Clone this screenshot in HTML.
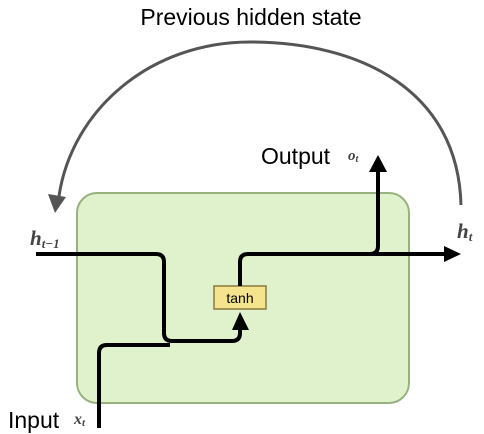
<!DOCTYPE html>
<html><head><meta charset="utf-8"><style>
html,body{margin:0;padding:0;background:#fff;}
svg{display:block;}
.s{font-family:"Liberation Sans",sans-serif;fill:#000;}
.m{font-family:"Liberation Serif",serif;font-style:italic;fill:#444;}
</style></head><body>
<svg width="484" height="434" viewBox="0 0 484 434">
  <text class="s" x="251" y="25" font-size="23" text-anchor="middle">Previous hidden state</text>
  <path d="M461,205 C458,90 360,42 250,42 C150,42 72,110 59,196" fill="none" stroke="#555" stroke-width="3"/>
  <polygon points="55,213 48,194 66,197" fill="#555"/>
  <rect x="77" y="193" width="332" height="210" rx="20" ry="20" fill="#dff2cc" stroke="#98b27f" stroke-width="2"/>
  <path d="M36,254 L156,254 Q164,254 164,262 L164,333 Q164,341 172,341 L232,341 Q240,341 240,333 L240,328" fill="none" stroke="#000" stroke-width="4"/>
  <path d="M99,428 L99,353 Q99,345 107,345 L170,345" fill="none" stroke="#000" stroke-width="4"/>
  <polygon points="240,312 232,330 249,330" fill="#000"/>
  <rect x="214" y="286" width="52" height="23" fill="#f3e48d" stroke="#8a7a3c" stroke-width="1.5"/>
  <text class="s" x="240" y="303" font-size="14" text-anchor="middle" fill="#333">tanh</text>
  <path d="M240,286 L240,262 Q240,254 248,254 L446,254" fill="none" stroke="#000" stroke-width="4"/>
  <polygon points="461,254 444,246 444,262" fill="#000"/>
  <path d="M370,254 Q378,254 378,246 L378,170" fill="none" stroke="#000" stroke-width="4"/>
  <polygon points="378,155 369,172 387,172" fill="#000"/>
  <text class="s" x="261" y="164" font-size="23">Output</text>
  <text class="m" x="348" y="160" font-size="15" font-weight="bold">o<tspan font-size="10" dy="2">t</tspan></text>
  <text class="m" x="457" y="238" font-size="21" font-weight="bold">h<tspan font-size="13" dy="3">t</tspan></text>
  <text class="m" x="30" y="245" font-size="21" font-weight="bold">h<tspan font-size="13" dy="3">t−1</tspan></text>
  <text class="s" x="8" y="428" font-size="23">Input</text>
  <text class="m" x="74" y="424" font-size="16" font-weight="bold">x<tspan font-size="11" dy="2">t</tspan></text>
</svg>
</body></html>
